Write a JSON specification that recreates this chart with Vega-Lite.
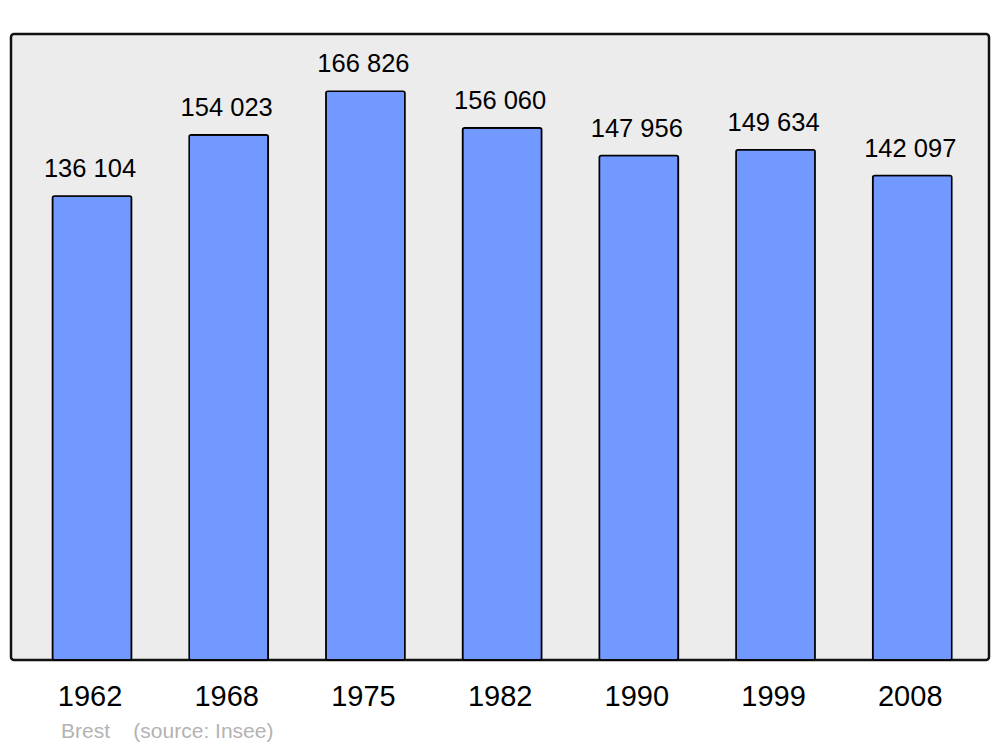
{
  "$schema": "https://vega.github.io/schema/vega-lite/v6.json",
  "width": 978,
  "height": 626,
  "autosize": {"type": "none"},
  "padding": {"left": 11, "top": 34, "right": 11, "bottom": 87},
  "background": "white",
  "config": {
    "view": {"fill": "#ECECEC", "stroke": "#111111", "strokeWidth": 2.5, "cornerRadius": 3},
    "font": "Liberation Sans"
  },
  "title": {
    "text": "Brest\u00a0\u00a0\u00a0\u00a0(source: Insee)",
    "orient": "bottom",
    "anchor": "start",
    "dx": 50,
    "offset": 10,
    "fontSize": 21,
    "fontWeight": "normal",
    "color": "#B3B3B3",
    "font": "Liberation Sans"
  },
  "data": {
    "values": [
      {"year": "1962", "pop": 136104, "label": "136 104"},
      {"year": "1968", "pop": 154023, "label": "154 023"},
      {"year": "1975", "pop": 166826, "label": "166 826"},
      {"year": "1982", "pop": 156060, "label": "156 060"},
      {"year": "1990", "pop": 147956, "label": "147 956"},
      {"year": "1999", "pop": 149634, "label": "149 634"},
      {"year": "2008", "pop": 142097, "label": "142 097"}
    ]
  },
  "encoding": {
    "x": {
      "field": "year", "type": "nominal", "sort": null,
      "scale": {"paddingInner": 0.422, "paddingOuter": 0.288, "align": 0.527},
      "axis": {"title": null, "domain": false, "ticks": false, "labelAngle": 0, "labelFontSize": 29, "labelColor": "#000000", "labelPadding": 45, "labelBaseline": "alphabetic", "labelFont": "Liberation Sans", "labelOffset": -2}
    },
    "y": {
      "field": "pop", "type": "quantitative",
      "scale": {"domain": [0, 183600], "nice": false},
      "axis": null
    }
  },
  "layer": [
    {"mark": {"type": "bar", "fill": "#7299FF", "stroke": "#000000", "strokeWidth": 1.6, "cornerRadius": 2}},
    {"mark": {"type": "text", "baseline": "alphabetic", "dy": -19, "dx": -2, "fontSize": 25.5, "color": "#000000", "font": "Liberation Sans"},
     "encoding": {"text": {"field": "label"}}}
  ]
}
